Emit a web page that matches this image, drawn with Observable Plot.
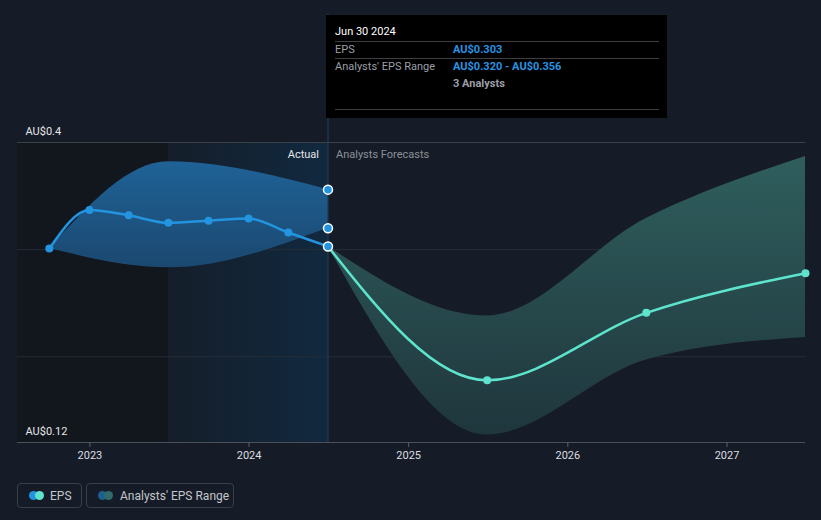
<!DOCTYPE html>
<html><head><meta charset="utf-8">
<script src="https://cdn.jsdelivr.net/npm/d3@7"></script>
<script src="https://cdn.jsdelivr.net/npm/@observablehq/plot@0.6"></script>
<style>
body{margin:0;background:#161c27;font-family:Roboto,"Noto Sans",sans-serif;}
#wrap{position:relative;width:821px;height:520px;overflow:hidden;background:#161c27;}
#chart svg{display:block;}
#tip{position:absolute;left:326px;top:15px;width:341px;height:103px;background:#000;}
#tip .t{position:absolute;font-size:11px;white-space:nowrap;line-height:13px;}
#tip .hr{position:absolute;left:9px;width:324px;height:1px;background:#3d3f43;}
.lg{position:absolute;top:483px;height:25px;border:1px solid #3a4049;border-radius:4px;box-sizing:border-box;}
.lg .c{position:absolute;top:7px;width:9px;height:9px;border-radius:50%;}
.lg .l{position:absolute;top:5px;font-size:12px;color:#c3c6cb;white-space:nowrap;line-height:14px;}
</style></head><body>
<div id="wrap">
<div id="chart"></div>
<div id="tip"></div>
<div id="legend"></div>
</div>
<script>
// ---- data ----
const histDates = ["2022-09-30","2022-12-31","2023-03-31","2023-06-30","2023-09-30","2023-12-31","2024-03-31","2024-06-30"];
const histEps   = [0.301,0.337,0.332,0.325,0.327,0.329,0.316,0.303];
const histRangeDates = ["2022-09-30","2023-06-30","2024-06-30"];
const histLow   = [0.301,0.283,0.320];
const histHigh  = [0.301,0.382,0.356];
const fcDates = ["2024-06-30","2025-06-30","2026-06-30","2027-06-30"];
const fcEps   = [0.303,0.178,0.241,0.278];
const fcLow   = [0.303,0.127,0.197,0.218];
const fcHigh  = [0.303,0.238,0.329,0.387];
const markerDate = "2024-06-30";
const markerValues = [0.356,0.320,0.303];
const pastStart = "2023-06-30";
const xDomain = ["2022-07-19","2027-06-30"];
const xTickYears = ["2023-01-01","2024-01-01","2025-01-01","2026-01-01","2027-01-01"];
const yDomain = [0.12,0.4];
const yGrid = [0.3,0.2];
const yLabelValues = [0.4,0.12];
const yLabels = ["AU$0.4","AU$0.12"];
const tipTitle = "Jun 30 2024";
const tipRows = [["EPS","AU$0.303"],["Analysts' EPS Range","AU$0.320 - AU$0.356"],["","3 Analysts"]];
const legendItems = ["EPS","Analysts' EPS Range"];

// ---- build ----
const D = s => new Date(s + "T00:00:00Z");
const hist = histDates.map((d,i)=>({date:D(d),eps:histEps[i]}));
const histRange = histRangeDates.map((d,i)=>({date:D(d),low:histLow[i],high:histHigh[i]}));
const fc = fcDates.map((d,i)=>({date:D(d),eps:fcEps[i],low:fcLow[i],high:fcHigh[i]}));
const regions = [{x1:D(xDomain[0]),x2:D(pastStart),y1:yDomain[0],y2:yDomain[1]}];
const hlRegion = [{x1:D(pastStart),x2:D(markerDate),y1:yDomain[0],y2:yDomain[1]}];
const markers = markerValues.map(v=>({date:D(markerDate),v}));
const ylab = yLabelValues.map((v,i)=>({v,label:yLabels[i],x:D(xDomain[0])}));
const md = D(markerDate);

const plot = Plot.plot({
  width:821, height:470,
  marginLeft:17, marginRight:16, marginTop:142, marginBottom:28,
  style:{background:"transparent", fontFamily:"Roboto, sans-serif"},
  x:{type:"utc", domain:xDomain.map(D)},
  y:{domain:yDomain, axis:null},
  marks:[
    Plot.rect(regions,{x1:"x1",x2:"x2",y1:"y1",y2:"y2",fill:"#12161d"}),
    Plot.rect(hlRegion,{x1:"x1",x2:"x2",y1:"y1",y2:"y2",fill:"url(#hlg)"}),
    Plot.ruleY(yGrid,{stroke:"#262d38",strokeWidth:1}),
    Plot.ruleY([yDomain[1]],{stroke:"#3c4149",strokeWidth:1}),
    Plot.ruleX([md],{y1:yDomain[0],y2:0.52,stroke:"#24425c",strokeWidth:1}),
    Plot.areaY(histRange,{x:"date",y1:"low",y2:"high",fill:"url(#hbg)",curve:"monotone-x"}),
    Plot.areaY(fc,{x:"date",y1:"low",y2:"high",fill:"url(#fbg)",curve:"monotone-x"}),
    Plot.line(fc,{x:"date",y:"eps",stroke:"#5ee3cd",strokeWidth:2.5,curve:"monotone-x"}),
    Plot.line(hist,{x:"date",y:"eps",stroke:"#2394df",strokeWidth:2.5,curve:"monotone-x"}),
    Plot.dot(fc.slice(1),{x:"date",y:"eps",r:4,fill:"#5ee3cd"}),
    Plot.dot(hist.slice(0,-1),{x:"date",y:"eps",r:4,fill:"#2394df"}),
    Plot.dot(markers,{x:"date",y:"v",r:4.5,fill:"#2394df",stroke:"#ffffff",strokeWidth:1.5}),
    Plot.text([{x:md,y:yDomain[1]}],{x:"x",y:"y",text:()=>"Actual",textAnchor:"end",dx:-9,dy:12,fill:"#e4e6e8",fontSize:11}),
    Plot.text([{x:md,y:yDomain[1]}],{x:"x",y:"y",text:()=>"Analysts Forecasts",textAnchor:"start",dx:8,dy:12,fill:"#8b9097",fontSize:11}),
    Plot.text(ylab,{x:"x",y:"v",text:"label",textAnchor:"start",dx:8,dy:-11,fill:"#e4e6e8",fontSize:11}),
    Plot.ruleY([yDomain[0]],{stroke:"#4b5058",strokeWidth:1}),
    Plot.axisX({ticks:xTickYears.map(D),tickFormat:"%Y",tickSize:5,tickPadding:4,stroke:"#5a5f67",fill:"#dcdee1",fontSize:11})
  ]
});
document.getElementById("chart").appendChild(plot);

const svg = d3.select(plot);
const defs = svg.insert("defs",":first-child");
function grad(id, horizontal, stops){
  const g = defs.append("linearGradient").attr("id",id)
    .attr("x1",0).attr("y1",0).attr("x2",horizontal?1:0).attr("y2",horizontal?0:1);
  stops.forEach(([o,c])=>g.append("stop").attr("offset",o).attr("stop-color",c));
}
grad("hlg",true,[[0,"#151e2a"],[1,"#11293f"]]);
grad("hbg",false,[[0,"#1f6296"],[1,"#1b4870"]]);
grad("fbg",false,[[0,"#2f5e5d"],[1,"#1f363d"]]);

// tooltip
const tip = document.getElementById("tip");
function add(parent, cls, style, text){
  const e=document.createElement("div"); e.className=cls; Object.assign(e.style,style); if(text!=null) e.textContent=text; parent.appendChild(e); return e;
}
add(tip,"t",{left:"9px",top:"10px",color:"#ffffff"},tipTitle);
add(tip,"hr",{top:"26px"});
add(tip,"t",{left:"9px",top:"28px",color:"#9b9fa5"},tipRows[0][0]);
add(tip,"t",{left:"127px",top:"28px",color:"#2a93e0",fontWeight:"bold"},tipRows[0][1]);
add(tip,"hr",{top:"43px"});
add(tip,"t",{left:"9px",top:"45px",color:"#9b9fa5"},tipRows[1][0]);
add(tip,"t",{left:"127px",top:"45px",color:"#2a93e0",fontWeight:"bold"},tipRows[1][1]);
add(tip,"t",{left:"127px",top:"62px",color:"#9b9fa5",fontWeight:"bold"},tipRows[2][1]);
add(tip,"hr",{top:"94px"});

// legend
const lg = document.getElementById("legend");
const b1 = add(lg,"lg",{left:"17px",width:"65px"});
add(b1,"c",{left:"11px",background:"#2394df"});
add(b1,"c",{left:"17px",background:"#5ee3cd"});
add(b1,"l",{left:"32px"},legendItems[0]);
const b2 = add(lg,"lg",{left:"86px",width:"148px"});
add(b2,"c",{left:"11px",background:"#1f5f8f"});
add(b2,"c",{left:"17px",background:"#2f6b6a"});
add(b2,"l",{left:"33px"},legendItems[1]);
</script>
</body></html>
